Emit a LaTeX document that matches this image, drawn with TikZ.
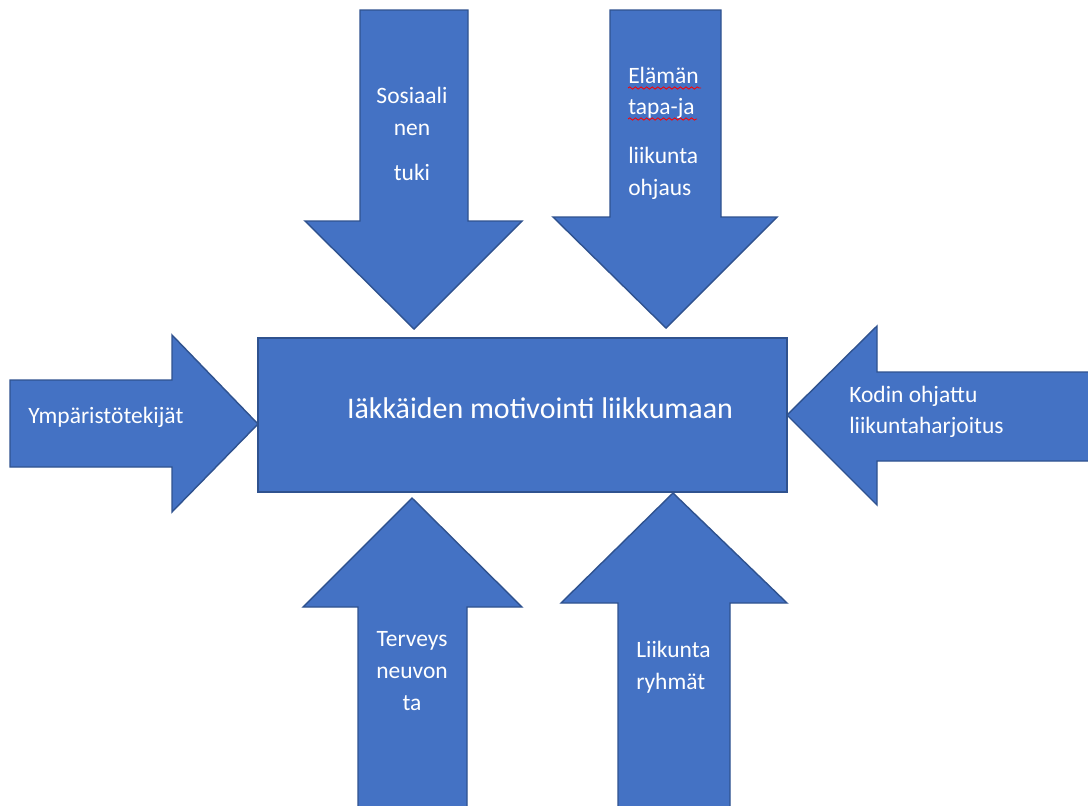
\documentclass[tikz,border=0pt]{standalone}
\usepackage{fontspec}
\setmainfont{Carlito}
\usepackage{xcolor}
\usetikzlibrary{decorations.pathmorphing}
\definecolor{sininen}{HTML}{4472C4}
\definecolor{reuna}{HTML}{2F528F}

\begin{document}
\begin{tikzpicture}[x=0.025cm, y=-0.025cm,
    nuoli/.style={fill=sininen, draw=reuna, line width=1pt, line join=miter},
    teksti/.style={text=white, inner sep=0pt, font=\fontsize{16.7}{22.5}\selectfont},
    kiemura/.style={draw=red, line width=0.6pt, decorate, decoration={snake, segment length=4pt, amplitude=0.8pt}}]
    \useasboundingbox (0,0) rectangle (1088,805);
    % ylhaalta
    \draw[nuoli] (360,10) -- (468,10) -- (468,221) -- (522,221) -- (414,329) -- (305,221) -- (360,221) -- cycle;
    \draw[nuoli] (610,10) -- (721,10) -- (721,217) -- (777,217) -- (666,328) -- (553,217) -- (610,217) -- cycle;
    % sivuilta
    \draw[nuoli] (10,380) -- (172,380) -- (172,335) -- (258,424) -- (172,512) -- (172,467) -- (10,467) -- cycle;
    \draw[nuoli] (1095,372) -- (877,372) -- (877,326) -- (787,415) -- (877,505) -- (877,461) -- (1095,461) -- cycle;
    % alhaalta
    \draw[nuoli] (358,812) -- (358,607) -- (303,607) -- (412,498) -- (522,607) -- (467,607) -- (467,812) -- cycle;
    \draw[nuoli] (618,812) -- (618,603) -- (561,603) -- (673,493) -- (787,603) -- (730,603) -- (730,812) -- cycle;
    % keskella
    \node[nuoli, minimum width=13.225cm, minimum height=3.85cm, inner sep=0pt] (laatikko) at (522.5,415) {};
    \node[teksti, font=\fontsize{21.3}{26}\selectfont] (otsikko) at (540,408) {Iäkkäiden motivointi liikkumaan};

    \node[teksti, align=center] (sosiaalinen) at (412,134) {Sosiaali\\nen\\[10pt]tuki};
    \node[teksti, align=left, anchor=west] (elaman) at (628,133) {Elämän\\tapa-ja\\[12pt]liikunta\\ohjaus};
    \node[teksti, anchor=west] (ymparisto) at (28,417) {Ympäristötekijät};
    \node[teksti, align=left, anchor=west] (kodin) at (849,412) {Kodin ohjattu\\liikuntaharjoitus};
    \node[teksti, align=center] (terveys) at (412,671) {Terveys\\neuvon\\ta};
    \node[teksti, align=left, anchor=west] (liikunta) at (636,667) {Liikunta\\ryhmät};

    \draw[kiemura] (628,88) -- (701,88);
    \draw[kiemura] (628,119) -- (697,119);
\end{tikzpicture}
\end{document}
